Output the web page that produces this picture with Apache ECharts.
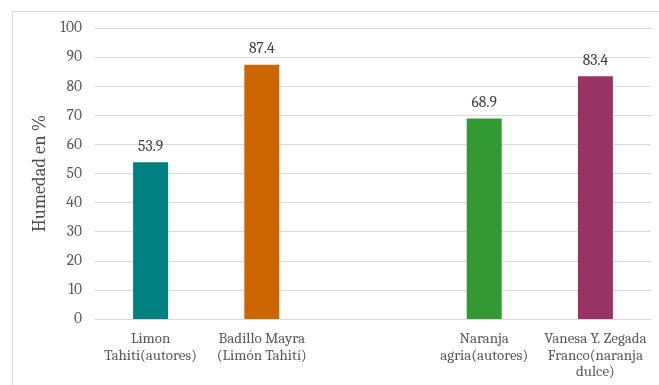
<!DOCTYPE html>
<html>
<head>
<meta charset="utf-8">
<script src="https://cdn.jsdelivr.net/npm/echarts@6/dist/echarts.min.js"></script>
<style>html,body{margin:0;padding:0;background:#fff}#c{width:659px;height:385px}</style>
</head>
<body>
<div id="c"></div>
<script>
var categories = ['Limon\nTahiti(autores)', 'Badillo Mayra\n(Limón Tahití)', '', 'Naranja\nagria(autores)', 'Vanesa Y. Zegada\nFranco(naranja\ndulce)'];
var values = [53.9, 87.4, null, 68.9, 83.4];
var colors = ['#008080', '#CC6600', null, '#339933', '#993366'];
var yTicks = [0, 10, 20, 30, 40, 50, 60, 70, 80, 90, 100];
var yTitle = 'Humedad en %';

var font = 'Cambria, "DejaVu Serif", serif';
var chart = echarts.init(document.getElementById('c'));
chart.setOption({
  animation: false,
  graphic: [{
    type: 'rect', left: 10, top: 9, shape: {width: 700, height: 450},
    style: {fill: 'none', stroke: '#d9d9d9', lineWidth: 1}, silent: true
  }],
  grid: {left: 95, right: 8, top: 28, bottom: 66},
  xAxis: {
    type: 'category', data: categories,
    axisLine: {lineStyle: {color: '#d9d9d9'}},
    axisTick: {show: false},
    axisLabel: {interval: 0, color: '#595959', fontFamily: font, fontSize: 15, lineHeight: 16.5, margin: 12}
  },
  yAxis: {
    type: 'value', min: yTicks[0], max: yTicks[yTicks.length - 1], interval: 10,
    name: yTitle, nameLocation: 'middle', nameGap: 45,
    nameTextStyle: {color: '#505050', fontFamily: font, fontSize: 18.5},
    axisLine: {show: false}, axisTick: {show: false},
    splitLine: {lineStyle: {color: '#d9d9d9', width: 1}},
    axisLabel: {color: '#595959', fontFamily: font, fontSize: 15.5, margin: 13}
  },
  series: [{
    type: 'bar', barWidth: 35,
    data: values.map(function (v, i) { return v === null ? null : {value: v, itemStyle: {color: colors[i]}}; }),
    label: {show: true, position: 'top', distance: 8, color: '#404040', fontFamily: font, fontSize: 15.5, formatter: function (p) { return p.value.toFixed(1); }}
  }]
});
</script>
</body>
</html>
